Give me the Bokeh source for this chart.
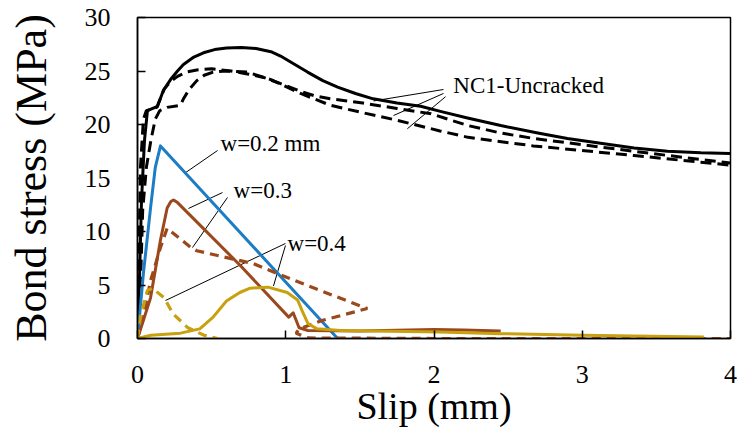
from bokeh.plotting import figure
from bokeh.embed import file_html
from bokeh.resources import INLINE
from bokeh.models import Range1d, FixedTicker, Label

# ---- data (slip in mm, bond stress in MPa) ----
nc1_solid_x = [0, 0.013, 0.027, 0.047, 0.067, 0.135, 0.175, 0.223, 0.27, 0.31, 0.38, 0.445, 0.52, 0.6, 0.7, 0.8, 0.9, 0.965, 1.05, 1.147, 1.25, 1.35, 1.47, 1.59, 1.75, 1.91, 2.05, 2.226, 2.45, 2.7, 2.9, 3.1, 3.35, 3.575, 3.8, 4.0]
nc1_solid_y = [0, 5.4, 12.9, 18.5, 21.3, 21.7, 23.2, 24.2, 25.0, 25.6, 26.3, 26.7, 27.0, 27.15, 27.2, 27.1, 26.8, 26.4, 25.7, 24.9, 24.1, 23.5, 22.9, 22.4, 22.0, 21.7, 21.2, 20.6, 19.9, 19.2, 18.7, 18.3, 17.8, 17.5, 17.35, 17.3]

nc1_dash1_x = [0, 0.01, 0.02, 0.04, 0.06, 0.13, 0.18, 0.22, 0.27, 0.33, 0.4, 0.5, 0.63, 0.75, 0.85, 0.97, 1.08, 1.19, 1.30, 1.52, 1.75, 1.98, 2.23, 2.45, 2.67, 3.12, 3.58, 4.0]
nc1_dash1_y = [0, 8.0, 16.0, 20.5, 21.3, 21.6, 23.3, 24.0, 24.5, 24.9, 25.1, 25.2, 25.0, 24.7, 24.4, 23.8, 23.2, 22.7, 22.4, 22.0, 21.5, 21.0, 19.9, 19.2, 18.7, 17.9, 17.1, 16.4]

nc1_dash2_x = [0, 0.02, 0.035, 0.06, 0.09, 0.12, 0.15, 0.2, 0.29, 0.31, 0.35, 0.4, 0.45, 0.51, 0.6, 0.74, 0.9, 1.1, 1.30, 1.52, 1.75, 2.04, 2.23, 2.67, 3.35, 4.0]
nc1_dash2_y = [0, 5.0, 12.0, 16.0, 18.5, 20.5, 21.3, 21.6, 21.8, 22.4, 23.3, 24.1, 24.6, 24.9, 25.0, 24.9, 24.2, 22.9, 21.8, 21.1, 20.4, 19.4, 18.8, 18.0, 17.1, 16.2]

w02_x = [0, 0.04, 0.088, 0.12, 0.155, 1.35]
w02_y = [0, 6.1, 12.2, 16.0, 18.0, 0]

w03_solid_x = [0, 0.04, 0.088, 0.155, 0.2, 0.225, 0.243, 0.27, 0.695, 1.02, 1.05, 1.09, 1.15, 1.5, 2.0, 2.2, 2.45]
w03_solid_y = [0, 1.7, 3.8, 9.2, 12.2, 12.8, 12.95, 12.7, 6.8, 2.0, 2.4, 1.0, 0.75, 0.7, 0.85, 0.8, 0.7]

w03_dash_x = [0, 0.04, 0.088, 0.155, 0.2, 0.36, 0.4, 0.78, 1.01, 1.23, 1.55, 1.25, 1.09, 1.07, 1.15, 2.0, 3.0, 4.0]
w03_dash_y = [0, 2.0, 5.4, 8.5, 10.3, 8.5, 8.2, 7.0, 5.7, 4.5, 2.8, 1.7, 0.9, 0.5, 0.05, 0.0, 0.0, 0.0]

w04_solid_x = [0, 0.09, 0.29, 0.42, 0.51, 0.6, 0.69, 0.76, 0.88, 1.01, 1.08, 1.11, 1.15, 1.21, 1.37, 2.04, 2.45, 3.0, 3.82]
w04_solid_y = [0, 0.3, 0.5, 0.9, 2.0, 3.5, 4.3, 4.7, 4.8, 4.3, 3.6, 2.6, 1.4, 0.9, 0.75, 0.6, 0.45, 0.3, 0.15]

w04_dash_x = [0, 0.02, 0.067, 0.1, 0.18, 0.24, 0.34, 0.45, 0.54]
w04_dash_y = [0, 2.0, 4.5, 4.7, 3.8, 2.3, 1.0, 0.3, 0.0]

x_ticks = [0, 1, 2, 3, 4]
y_ticks = [0, 5, 10, 15, 20, 25, 30]

# ---- annotation texts and leader lines ----
ann_texts = ["NC1-Uncracked", "w=0.2 mm", "w=0.3", "w=0.4"]
ann_x = [2.13, 0.56, 0.648, 1.012]
ann_y = [23.64, 18.2, 13.83, 8.88]
leader_x0 = [2.064, 2.064, 2.078, 0.54, 0.573, 0.607, 0.998, 0.998]
leader_y0 = [23.27, 22.9, 22.6, 17.57, 13.64, 13.18, 8.88, 8.69]
leader_x1 = [1.592, 1.727, 1.82, 0.324, 0.344, 0.371, 0.189, 0.917]
leader_y1 = [22.2, 20.84, 19.6, 15.5, 12.15, 8.5, 3.55, 4.9]

BLACK = "#000000"
BLUE = "#1c7cc4"
BROWN = "#9a481c"
GOLD = "#c9a00e"
SERIF = "Liberation Serif"

p = figure(width=740, height=434, output_backend="svg", toolbar_location=None,
           x_range=Range1d(0, 4), y_range=Range1d(0, 30),
           min_border_left=137, min_border_right=10, min_border_top=17, min_border_bottom=96)
p.background_fill_color = "white"
p.border_fill_color = "white"
p.xgrid.visible = False
p.ygrid.visible = False
p.outline_line_color = "black"
p.outline_line_width = 1.5

for ax in (p.xaxis[0], p.yaxis[0]):
    ax.major_label_text_font = SERIF
    ax.major_label_text_font_size = "26px"
    ax.major_label_text_color = "black"
    ax.axis_label_text_font = SERIF
    ax.axis_label_text_font_style = "normal"
    ax.axis_label_text_color = "black"
    ax.axis_line_color = "black"
    ax.axis_line_width = 1.5
    ax.major_tick_line_color = "black"
    ax.major_tick_line_width = 1.5
    ax.major_tick_in = 8
    ax.major_tick_out = 0
    ax.minor_tick_line_color = None

p.xaxis.ticker = FixedTicker(ticks=x_ticks)
p.yaxis.ticker = FixedTicker(ticks=y_ticks)
p.xaxis.axis_label = "Slip (mm)"
p.yaxis.axis_label = "Bond stress (MPa)"
p.xaxis.axis_label_text_font_size = "38px"
p.yaxis.axis_label_text_font_size = "44px"
p.xaxis.major_label_standoff = 27
p.yaxis.major_label_standoff = 27
p.xaxis.axis_label_standoff = -1
p.yaxis.axis_label_standoff = 26

# leader lines
p.segment(leader_x0, leader_y0, leader_x1, leader_y1, line_color="black", line_width=1)

# curves
p.line(nc1_solid_x, nc1_solid_y, line_color=BLACK, line_width=3, line_join="round")
p.line(nc1_dash1_x, nc1_dash1_y, line_color=BLACK, line_width=3, line_dash="11 6")
p.line(nc1_dash2_x, nc1_dash2_y, line_color=BLACK, line_width=3, line_dash="11 6")
p.line(w02_x, w02_y, line_color=BLUE, line_width=3, line_join="round")
p.line(w03_solid_x, w03_solid_y, line_color=BROWN, line_width=3, line_join="round")
p.line(w03_dash_x, w03_dash_y, line_color=BROWN, line_width=3.2, line_dash="9 6")
p.line(w04_solid_x, w04_solid_y, line_color=GOLD, line_width=3, line_join="round")
p.line(w04_dash_x, w04_dash_y, line_color=GOLD, line_width=3.2, line_dash="9 6")

for t, x, y in zip(ann_texts, ann_x, ann_y):
    p.add_layout(Label(x=x, y=y, text=t, text_font=SERIF, text_font_size="23px",
                       text_color="black", text_align="left", text_baseline="middle"))

open("out.html", "w").write(file_html(p, INLINE))
